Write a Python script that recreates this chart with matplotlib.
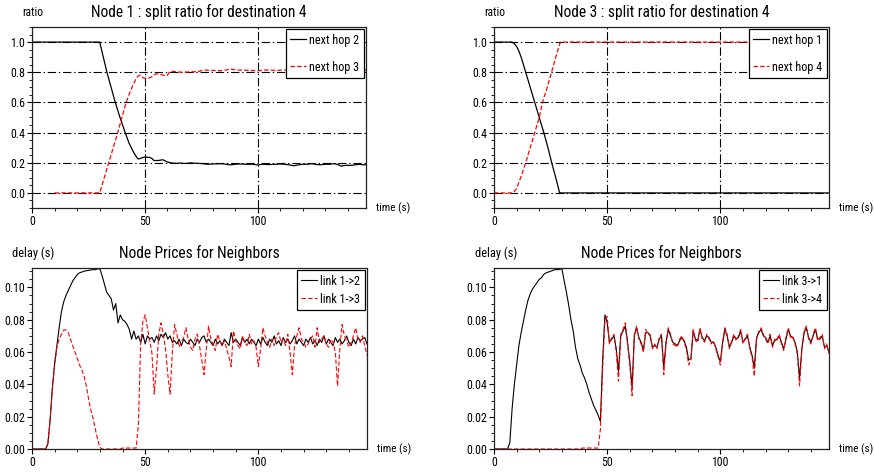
import numpy as np
import matplotlib
matplotlib.use("Agg")
import matplotlib.pyplot as plt
from matplotlib import font_manager
from matplotlib.ticker import MultipleLocator, FormatStrFormatter

names = {f.name for f in font_manager.fontManager.ttflist}
FONT = 'Liberation Sans'
for cand in ['Liberation Sans Narrow', 'Arial Narrow', 'Roboto Condensed', 'Liberation Sans']:
    if cand in names:
        FONT = cand
        break
plt.rcParams['font.family'] = [FONT, 'DejaVu Sans']
plt.rcParams['lines.scale_dashes'] = False

# ---------------- data: split ratios (top panels) ----------------
n1_hop2_t = [0, 30, 33.2, 36.9, 39, 41.3, 43, 45, 46, 47, 48, 49, 50, 52, 53, 54, 56, 58, 60, 62, 64, 66,
             68, 70, 72, 74, 76, 78, 80, 82, 84, 86, 88, 90, 92, 95, 98, 100, 102, 105, 108, 110, 112,
             114, 116, 118, 120, 122, 124, 126, 128, 130, 132, 134, 136, 137, 139, 141, 143, 145, 147, 148]
n1_hop2_v = [1.0, 1.0, 0.80, 0.60, 0.50, 0.40, 0.33, 0.27, 0.245, 0.225, 0.228, 0.235, 0.237, 0.236, 0.23,
             0.215, 0.215, 0.22, 0.205, 0.198, 0.196, 0.198, 0.195, 0.199, 0.197, 0.196, 0.193, 0.19, 0.192,
             0.193, 0.194, 0.19, 0.186, 0.19, 0.192, 0.19, 0.19, 0.185, 0.19, 0.188, 0.19, 0.192, 0.19, 0.186,
             0.18, 0.186, 0.19, 0.19, 0.194, 0.188, 0.187, 0.19, 0.19, 0.194, 0.185, 0.178, 0.183, 0.182,
             0.186, 0.19, 0.186, 0.187]
n1_hop3_t = [10, 30, 34, 38, 41.7, 44, 46, 47, 48, 49, 50, 52, 53, 55, 57, 59, 60, 61, 63, 66, 70, 74, 76,
             80, 84, 86, 88, 90, 95, 100, 104, 108, 112, 116, 120, 130, 140, 148]
n1_hop3_v = [0.0, 0.0, 0.20, 0.40, 0.60, 0.69, 0.755, 0.775, 0.78, 0.765, 0.76, 0.762, 0.77, 0.79, 0.785,
             0.778, 0.78, 0.805, 0.805, 0.80, 0.802, 0.805, 0.815, 0.812, 0.81, 0.815, 0.822, 0.815, 0.813,
             0.81, 0.815, 0.812, 0.815, 0.81, 0.81, 0.81, 0.81, 0.815]

n3_hop1_t = [0, 8, 9, 10, 11, 12, 13, 14, 16, 18, 20, 22, 24, 25.5, 27.3, 29, 148]
n3_hop1_v = [1.0, 1.0, 0.99, 0.97, 0.94, 0.90, 0.85, 0.80, 0.70, 0.60, 0.50, 0.40, 0.29, 0.20, 0.10, 0.0, 0.0]
n3_hop4_t = [0, 8, 9, 10, 11, 12, 13, 14, 16, 18, 20, 21.4, 23.5, 25.4, 27.3, 29.3, 148]
n3_hop4_v = [0.0, 0.0, 0.01, 0.03, 0.07, 0.11, 0.155, 0.20, 0.30, 0.40, 0.50, 0.60, 0.70, 0.80, 0.90, 1.0, 1.0]

# ---------------- data: node prices (bottom panels), one sample per second ----------------
time_s = list(range(0, 149))
link12 = [0, 0, 0, 0, 0, 0, 0, 0.003, 0.018, 0.038,
          0.053, 0.064, 0.075, 0.085, 0.091, 0.095, 0.098, 0.101, 0.104, 0.106,
          0.108, 0.109, 0.1095, 0.110, 0.1103, 0.1105, 0.1108, 0.111, 0.111, 0.1115,
          0.1115, 0.107, 0.102, 0.097, 0.095, 0.093, 0.086, 0.090, 0.078, 0.083,
          0.080, 0.079, 0.077, 0.074, 0.068, 0.073, 0.068, 0.070, 0.066, 0.071,
          0.065, 0.070, 0.068, 0.069, 0.066, 0.070, 0.067, 0.071, 0.069, 0.072,
          0.068, 0.070, 0.066, 0.067, 0.065, 0.068, 0.064, 0.068, 0.066, 0.065,
          0.068, 0.066, 0.064, 0.068, 0.066, 0.069, 0.070, 0.066, 0.068, 0.066,
          0.064, 0.068, 0.065, 0.067, 0.064, 0.068, 0.066, 0.064, 0.072, 0.066,
          0.068, 0.066, 0.064, 0.069, 0.066, 0.068, 0.065, 0.068, 0.066, 0.064,
          0.068, 0.065, 0.069, 0.066, 0.064, 0.068, 0.066, 0.070, 0.065, 0.067,
          0.064, 0.069, 0.066, 0.068, 0.065, 0.067, 0.070, 0.065, 0.068, 0.066,
          0.064, 0.068, 0.066, 0.069, 0.065, 0.067, 0.064, 0.068, 0.066, 0.070,
          0.065, 0.068, 0.066, 0.064, 0.069, 0.066, 0.068, 0.065, 0.067, 0.070,
          0.066, 0.064, 0.068, 0.065, 0.069, 0.067, 0.068, 0.069, 0.065]
link13 = [0, 0, 0, 0, 0, 0, 0, 0.003, 0.018, 0.037,
          0.052, 0.063, 0.068, 0.071, 0.0735, 0.0737, 0.072, 0.068, 0.064, 0.060,
          0.056, 0.052, 0.049, 0.045, 0.039, 0.031, 0.024, 0.019, 0.012, 0.006,
          0.001, 0, 0, 0, 0, 0, 0, 0, 0, 0,
          0.0006, 0.0006, 0.0006, 0.0006, 0.0006, 0.0006, 0.0006, 0.015, 0.065, 0.079,
          0.083, 0.075, 0.067, 0.059, 0.034, 0.050, 0.071, 0.078, 0.071, 0.062,
          0.046, 0.034, 0.060, 0.077, 0.071, 0.063, 0.066, 0.069, 0.075, 0.068,
          0.063, 0.061, 0.068, 0.071, 0.064, 0.055, 0.046, 0.062, 0.076, 0.068,
          0.065, 0.061, 0.071, 0.067, 0.064, 0.067, 0.062, 0.057, 0.051, 0.073,
          0.067, 0.064, 0.062, 0.070, 0.066, 0.064, 0.071, 0.065, 0.067, 0.063,
          0.051, 0.062, 0.075, 0.070, 0.066, 0.063, 0.068, 0.064, 0.070, 0.072,
          0.066, 0.068, 0.064, 0.071, 0.060, 0.046, 0.064, 0.070, 0.075, 0.068,
          0.066, 0.063, 0.065, 0.068, 0.070, 0.063, 0.075, 0.066, 0.068, 0.070,
          0.065, 0.063, 0.068, 0.066, 0.060, 0.039, 0.062, 0.077, 0.070, 0.067,
          0.063, 0.066, 0.070, 0.075, 0.068, 0.066, 0.070, 0.064, 0.058]
link31 = [0, 0, 0, 0, 0, 0, 0, 0.004, 0.025, 0.040,
          0.052, 0.064, 0.072, 0.079, 0.086, 0.092, 0.096, 0.099, 0.101, 0.103,
          0.105, 0.106, 0.108, 0.109, 0.1095, 0.110, 0.1105, 0.111, 0.111, 0.1112,
          0.1115, 0.104, 0.097, 0.089, 0.080, 0.073, 0.063, 0.056, 0.052, 0.047,
          0.044, 0.040, 0.035, 0.031, 0.027, 0.024, 0.021, 0.017, 0.055, 0.083,
          0.078, 0.066, 0.068, 0.070, 0.062, 0.048, 0.070, 0.073, 0.076, 0.066,
          0.054, 0.038, 0.070, 0.075, 0.069, 0.066, 0.061, 0.072, 0.072, 0.070,
          0.063, 0.064, 0.063, 0.068, 0.070, 0.050, 0.066, 0.074, 0.070, 0.066,
          0.065, 0.064, 0.067, 0.069, 0.067, 0.063, 0.055, 0.056, 0.073, 0.068,
          0.067, 0.074, 0.069, 0.067, 0.070, 0.069, 0.066, 0.066, 0.063, 0.058,
          0.054, 0.066, 0.074, 0.070, 0.063, 0.066, 0.070, 0.068, 0.069, 0.073,
          0.066, 0.068, 0.070, 0.063, 0.058, 0.050, 0.069, 0.072, 0.074, 0.070,
          0.069, 0.066, 0.070, 0.064, 0.067, 0.068, 0.070, 0.066, 0.062, 0.068,
          0.074, 0.070, 0.069, 0.066, 0.060, 0.044, 0.062, 0.072, 0.075, 0.069,
          0.066, 0.070, 0.074, 0.068, 0.068, 0.070, 0.063, 0.064, 0.060]
link34 = [0, 0, 0, 0, 0, 0, 0, 0, 0, 0,
          0, 0, 0, 0, 0, 0, 0, 0, 0, 0,
          0, 0, 0, 0, 0, 0, 0, 0, 0, 0,
          0, 0, 0, 0, 0, 0, 0, 0, 0, 0.0006,
          0.0006, 0.0006, 0.0006, 0.0006, 0.0006, 0.0006, 0.0006, 0.012, 0.050, 0.080,
          0.082, 0.065, 0.069, 0.071, 0.060, 0.042, 0.071, 0.074, 0.078, 0.065,
          0.052, 0.033, 0.071, 0.076, 0.068, 0.065, 0.060, 0.074, 0.071, 0.071,
          0.062, 0.065, 0.062, 0.069, 0.071, 0.046, 0.065, 0.075, 0.071, 0.065,
          0.064, 0.063, 0.068, 0.070, 0.066, 0.062, 0.052, 0.055, 0.074, 0.067,
          0.066, 0.075, 0.068, 0.066, 0.071, 0.068, 0.065, 0.067, 0.062, 0.057,
          0.052, 0.065, 0.075, 0.071, 0.062, 0.067, 0.071, 0.067, 0.070, 0.074,
          0.065, 0.069, 0.071, 0.062, 0.057, 0.045, 0.068, 0.073, 0.075, 0.071,
          0.068, 0.065, 0.071, 0.063, 0.068, 0.067, 0.071, 0.065, 0.061, 0.069,
          0.075, 0.069, 0.070, 0.065, 0.059, 0.039, 0.061, 0.073, 0.076, 0.068,
          0.065, 0.071, 0.075, 0.067, 0.069, 0.071, 0.062, 0.065, 0.059]

titles = ["Node 1 : split ratio for destination 4", "Node 3 : split ratio for destination 4",
          "Node Prices for Neighbors", "Node Prices for Neighbors"]

# ---------------- figure ----------------
fig = plt.figure(figsize=(8.74, 4.73), dpi=100)
W, H = 874, 473
renderer = fig.canvas.get_renderer()

def fit(txt, px, factor=1.0):
    t = fig.text(0, 0, txt, fontsize=10)
    w = t.get_window_extent(renderer).width
    t.remove()
    return 10.0 * px / w * factor

K = 1.05
FS_TITLE = fit(titles[0], 205, K)
FS_TICK = fit("100", 16.5, K)
FS_TIME = fit("time (s)", 33.5, 1.0)
FS_LEG = fit("next hop 2", 48, 1.03)
FS_RATIO = fit("ratio", 20, K)
FS_DELAY = fit("delay (s)", 40, K)

def add_ax(l, t, r, b):
    return fig.add_axes([l / W, 1 - b / H, (r - l) / W, (b - t) / H])

ax1 = add_ax(32, 27, 366, 208)
ax2 = add_ax(494, 27, 829, 208)
ax3 = add_ax(32, 268, 367, 449)
ax4 = add_ax(494, 268, 829, 449)

BLACK = '#000000'
RED = '#ff0000'
RED_DASH = (0, (3.2, 1.6))
GRID_DASH = (0, (6, 2, 1, 2))

def style(ax, top, ylab, ylab_x):
    ax.set_xlim(0, 148)
    ax.xaxis.set_major_locator(MultipleLocator(50))
    ax.xaxis.set_minor_locator(MultipleLocator(10))
    if top:
        ax.set_ylim(-0.1, 1.1)
        ax.yaxis.set_major_locator(MultipleLocator(0.2))
        ax.yaxis.set_minor_locator(MultipleLocator(0.05))
        ax.yaxis.set_major_formatter(FormatStrFormatter('%.1f'))
        ax.grid(True, which='major', color='k', lw=0.8, ls=GRID_DASH)
        ax.set_axisbelow(True)
        lab_fs = FS_RATIO
    else:
        ax.set_ylim(0, 0.112)
        ax.yaxis.set_major_locator(MultipleLocator(0.02))
        ax.yaxis.set_minor_locator(MultipleLocator(0.005))
        ax.yaxis.set_major_formatter(FormatStrFormatter('%.2f'))
        lab_fs = FS_DELAY
    ax.tick_params(which='major', direction='out', length=3.5, width=0.8, labelsize=FS_TICK, pad=1.5)
    ax.tick_params(which='minor', direction='out', length=2, width=0.6)
    for s in ax.spines.values():
        s.set_linewidth(0.9)
        s.set_color('#222222')
    ax.text(1.03, 0.0, "time (s)", transform=ax.transAxes, ha='left', va='center', fontsize=FS_TIME)
    ax.text(ylab_x, 1.08, ylab, transform=ax.transAxes, ha='left', va='center', fontsize=lab_fs)

def leg(ax, spacing):
    lg = ax.legend(loc='upper right', fancybox=False, framealpha=1, edgecolor='k', fontsize=FS_LEG,
                   borderaxespad=0.2, handlelength=1.3, labelspacing=spacing, borderpad=0.35,
                   handletextpad=0.3)
    lg.get_frame().set_linewidth(0.9)

ax1.plot(n1_hop2_t, n1_hop2_v, color=BLACK, lw=0.9, label="next hop 2")
ax1.plot(n1_hop3_t, n1_hop3_v, color=RED, lw=0.9, ls=RED_DASH, label="next hop 3")
style(ax1, True, "ratio", -0.03)
leg(ax1, 1.15)
ax1.set_title(titles[0], fontsize=FS_TITLE, pad=7)

ax2.plot(n3_hop1_t, n3_hop1_v, color=BLACK, lw=0.9, label="next hop 1")
ax2.plot(n3_hop4_t, n3_hop4_v, color=RED, lw=0.9, ls=RED_DASH, label="next hop 4")
style(ax2, True, "ratio", -0.03)
leg(ax2, 1.15)
ax2.set_title(titles[1], fontsize=FS_TITLE, pad=7)

ax3.plot(time_s, link12, color=BLACK, lw=0.8, label="link 1->2")
ax3.plot(time_s, link13, color=RED, lw=0.8, ls=RED_DASH, label="link 1->3")
style(ax3, False, "delay (s)", -0.06)
leg(ax3, 0.42)
ax3.set_title(titles[2], fontsize=FS_TITLE, pad=7)

ax4.plot(time_s, link31, color=BLACK, lw=0.8, label="link 3->1")
ax4.plot(time_s, link34, color=RED, lw=0.8, ls=RED_DASH, label="link 3->4")
style(ax4, False, "delay (s)", -0.057)
leg(ax4, 0.42)
ax4.set_title(titles[3], fontsize=FS_TITLE, pad=7)

fig.savefig("out.png", dpi=100)
